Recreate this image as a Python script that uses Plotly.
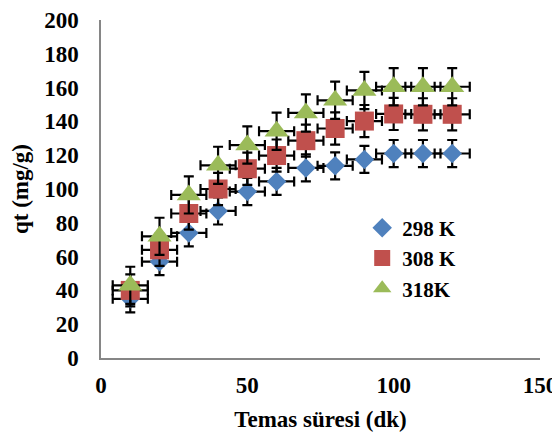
import plotly.graph_objects as go

time_min = [10, 20, 30, 40, 50, 60, 70, 80, 90, 100, 110, 120]
q_298 = [35, 57, 74, 87, 98.5, 104.5, 112.5, 113.7, 117.5, 121, 121, 121]
q_308 = [40, 64, 85.5, 100, 112, 119.8, 128.6, 135.8, 140.2, 144.4, 144.2, 144.2]
q_318 = [43, 72, 96.5, 114, 126, 134.2, 145, 152.5, 158.3, 160.5, 160.5, 160.5]
err_x = 6
err_298 = 8
err_308 = 9.5
err_318 = 11
series_names = ["298 K", "308 K", "318K"]
colors = ["#4F81BD", "#C0504D", "#9BBB59"]
symbols = ["diamond", "square", "triangle-up"]
sizes = [15, 19, 21]

FONT = "Liberation Serif"
fig = go.Figure()
for name, ys, ey, c, s, sz in zip(series_names, [q_298, q_308, q_318],
                                  [err_298, err_308, err_318], colors, symbols, sizes):
    fig.add_trace(go.Scatter(
        x=time_min, y=ys, mode="markers", name=name,
        marker=dict(symbol=s, size=sz, color=c, line=dict(width=0)),
        error_y=dict(type="constant", value=ey, color="black", thickness=2.2, width=5),
        error_x=dict(type="constant", value=err_x, color="black", thickness=2.2, width=5),
    ))

axis_common = dict(showgrid=False, zeroline=False, showline=True, linecolor="#868686",
                   linewidth=1.5, ticks="", automargin=False,
                   tickfont=dict(family=FONT, size=23, color="black", weight="bold"))
fig.update_xaxes(range=[0, 150], dtick=50, ticklabelstandoff=6,
                 title=dict(text="Temas süresi (dk)", font=dict(family=FONT, size=23, color="black", weight="bold"), standoff=14),
                 **axis_common)
fig.update_yaxes(range=[0, 200], dtick=20, ticklabelstandoff=16,
                 title=dict(text="qt (mg/g)", font=dict(family=FONT, size=23, color="black", weight="bold"), standoff=11),
                 **axis_common)

fig.update_layout(
    width=552, height=436,
    margin=dict(l=93, r=20, t=12, b=86),
    paper_bgcolor="white", plot_bgcolor="white",
    font=dict(family=FONT, size=23, color="black"),
    legend=dict(x=0.595, y=0.445, xanchor="left", yanchor="top",
                font=dict(family=FONT, size=21, color="black", weight="bold"),
                itemwidth=30, bgcolor="rgba(0,0,0,0)", tracegroupgap=0),
    showlegend=True,
)
fig.write_html("out.html")
